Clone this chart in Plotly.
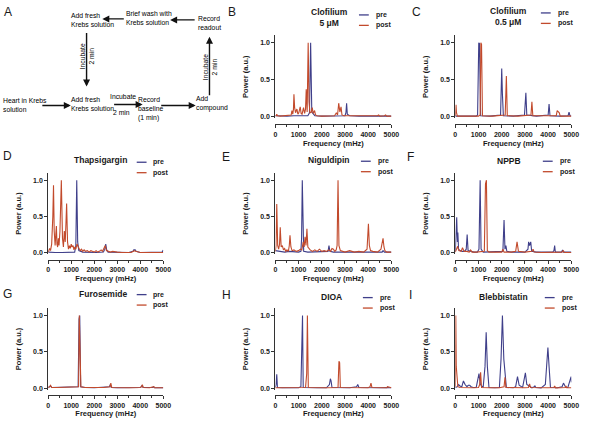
import plotly.graph_objects as go

# ---------------- DATA ----------------
freq_ticks = [0, 1000, 2000, 3000, 4000, 5000]
freq_tick_labels = ["0", "1000", "2000", "3000", "4000", "5000"]
power_ticks = [0, 0.5, 1.0]
power_tick_labels = ["0.0", "0.5", "1.0"]

# B: Clofilium 5 uM
b_pre_x = [0, 200, 500, 800, 1100, 1400, 1470, 1520, 1570, 1650, 1700, 2000, 2500, 3000, 3040, 3070, 3100, 3200, 3600, 4000, 4500, 5000]
b_pre_y = [0.01, 0.005, 0.005, 0.01, 0.005, 0.01, 0.05, 1.0, 0.06, 0.03, 0.01, 0.005, 0.005, 0.01, 0.05, 0.18, 0.03, 0.01, 0.005, 0.005, 0.005, 0.005]
b_post_x = [0, 40, 60, 90, 200, 400, 600, 680, 714, 750, 780, 800, 830, 870, 900, 930, 970, 1010, 1070, 1110, 1150, 1214, 1260, 1300, 1330, 1370, 1414, 1450, 1490, 1550, 1590, 1630, 1660, 1690, 1730, 1800, 2000, 2300, 2550, 2630, 2680, 2730, 2780, 2830, 2870, 2950, 3300, 3700, 4000, 4200, 4400, 4450, 4500, 4700, 4750, 4800, 5000]
b_post_y = [0.01, 0.01, 0.03, 0.01, 0.005, 0.01, 0.01, 0.02, 0.08, 0.03, 0.1, 0.3, 0.12, 0.05, 0.08, 0.1, 0.03, 0.05, 0.13, 0.04, 0.03, 0.12, 0.04, 0.1, 0.37, 0.06, 1.0, 0.2, 0.05, 0.06, 0.12, 0.04, 0.06, 0.08, 0.02, 0.01, 0.005, 0.01, 0.01, 0.05, 0.02, 0.18, 0.06, 0.13, 0.02, 0.01, 0.01, 0.005, 0.01, 0.005, 0.01, 0.02, 0.005, 0.01, 0.02, 0.005, 0.005]

# C: Clofilium 0.5 uM
c_pre_x = [0, 300, 600, 900, 960, 1010, 1040, 1090, 1500, 1950, 2000, 2030, 2070, 2500, 2980, 3040, 3080, 3500, 4000, 4040, 4080, 4500, 4860, 4900, 4940, 5000]
c_pre_y = [0.005, 0.005, 0.005, 0.005, 0.02, 1.0, 0.99, 0.01, 0.005, 0.02, 0.65, 0.3, 0.01, 0.005, 0.02, 0.32, 0.02, 0.005, 0.02, 0.17, 0.01, 0.005, 0.01, 0.06, 0.01, 0.005]
c_post_x = [0, 30, 50, 90, 500, 1000, 1070, 1100, 1130, 1170, 1600, 2150, 2200, 2240, 2700, 3260, 3300, 3340, 3900, 4350, 4390, 4450, 4480, 4520, 5000]
c_post_y = [0.005, 0.16, 0.05, 0.005, 0.005, 0.005, 0.02, 1.0, 0.98, 0.01, 0.005, 0.02, 0.55, 0.01, 0.005, 0.02, 0.2, 0.01, 0.005, 0.01, 0.08, 0.06, 0.05, 0.005, 0.005]

# D: Thapsigargin
d_pre_x = [0, 100, 300, 600, 900, 1150, 1200, 1240, 1280, 1330, 1500, 1800, 2100, 2400, 2460, 2500, 2540, 2600, 3000, 3500, 3680, 3720, 3780, 3820, 4000, 4500, 4950, 5000]
d_pre_y = [0.01, 0.005, 0.005, 0.005, 0.005, 0.01, 0.1, 1.0, 0.15, 0.03, 0.01, 0.005, 0.005, 0.01, 0.05, 0.12, 0.04, 0.01, 0.005, 0.005, 0.02, 0.04, 0.04, 0.02, 0.005, 0.005, 0.01, 0.04]
d_post_x = [0, 60, 100, 150, 200, 230, 260, 300, 330, 355, 380, 410, 440, 470, 510, 570, 620, 660, 700, 740, 770, 800, 840, 880, 920, 960, 1000, 1040, 1080, 1120, 1160, 1200, 1250, 1300, 1340, 1400, 1450, 1500, 1560, 1620, 1700, 1780, 1850, 1920, 2000, 2080, 2150, 2220, 2300, 2360, 2420, 2480, 2530, 2600, 2700, 2800, 2900, 3000, 3200, 3400, 3600, 3750, 3800, 4000, 4300, 4600, 4900, 5000]
d_post_y = [0.01, 0.06, 0.03, 0.12, 0.5, 0.93, 0.3, 0.1, 0.25, 0.37, 0.12, 0.08, 0.2, 0.1, 0.3, 1.0, 0.2, 0.08, 0.3, 0.15, 0.4, 0.68, 0.15, 0.05, 0.1, 0.06, 0.12, 0.08, 0.1, 0.04, 0.08, 0.05, 0.12, 0.08, 0.06, 0.03, 0.05, 0.02, 0.04, 0.02, 0.03, 0.01, 0.03, 0.02, 0.01, 0.03, 0.01, 0.02, 0.04, 0.02, 0.06, 0.1, 0.03, 0.02, 0.01, 0.02, 0.01, 0.01, 0.005, 0.01, 0.005, 0.03, 0.02, 0.005, 0.005, 0.005, 0.01, 0.005]

# E: Niguldipin
e_pre_x = [0, 200, 400, 600, 800, 1000, 1100, 1130, 1160, 1190, 1220, 1400, 1600, 1800, 2000, 2200, 2270, 2310, 2350, 2500, 2800, 3200, 3600, 4000, 4200, 4240, 4400, 4600, 4640, 4700, 5000]
e_pre_y = [0.03, 0.02, 0.01, 0.02, 0.01, 0.01, 0.02, 0.2, 1.0, 0.15, 0.02, 0.01, 0.01, 0.01, 0.01, 0.01, 0.02, 0.1, 0.02, 0.01, 0.01, 0.01, 0.01, 0.01, 0.01, 0.02, 0.01, 0.01, 0.03, 0.01, 0.01]
e_post_x = [0, 30, 60, 100, 140, 180, 210, 250, 300, 350, 400, 450, 500, 560, 600, 630, 670, 720, 800, 900, 1000, 1080, 1140, 1200, 1240, 1280, 1320, 1360, 1400, 1450, 1500, 1600, 1700, 1800, 1900, 2000, 2100, 2200, 2300, 2380, 2440, 2500, 2560, 2620, 2660, 2700, 2740, 2800, 2900, 3000, 3200, 3400, 3600, 3800, 3950, 4010, 4050, 4100, 4200, 4400, 4550, 4600, 4640, 4680, 4720, 4800, 5000]
e_post_y = [0.02, 0.1, 0.67, 0.1, 0.05, 0.12, 0.35, 0.08, 0.1, 0.04, 0.06, 0.02, 0.04, 0.02, 0.1, 0.24, 0.08, 0.03, 0.04, 0.02, 0.03, 0.05, 0.04, 0.15, 0.08, 0.22, 0.1, 0.33, 0.08, 0.05, 0.04, 0.02, 0.04, 0.02, 0.05, 0.02, 0.03, 0.02, 0.04, 0.02, 0.06, 0.05, 0.02, 0.04, 0.1, 1.0, 0.1, 0.03, 0.02, 0.01, 0.03, 0.01, 0.02, 0.01, 0.05, 0.4, 0.1, 0.03, 0.02, 0.01, 0.05, 0.12, 0.2, 0.08, 0.03, 0.01, 0.01]

# F: NPPB
f_pre_x = [0, 30, 60, 90, 110, 140, 200, 300, 400, 470, 510, 550, 650, 800, 950, 1020, 1070, 1110, 1200, 1400, 1700, 1900, 2050, 2100, 2140, 2180, 2220, 2400, 2700, 3000, 3130, 3160, 3200, 3250, 3290, 3500, 3800, 4200, 4250, 4280, 4310, 4500, 4580, 4620, 4660, 5000]
f_pre_y = [0.02, 0.2, 0.49, 0.15, 0.28, 0.05, 0.03, 0.02, 0.02, 0.05, 0.25, 0.03, 0.02, 0.01, 0.01, 0.05, 1.0, 0.05, 0.01, 0.01, 0.01, 0.01, 0.02, 0.45, 0.05, 0.1, 0.02, 0.01, 0.01, 0.01, 0.05, 0.15, 0.1, 0.15, 0.02, 0.01, 0.01, 0.01, 0.03, 0.1, 0.01, 0.01, 0.01, 0.04, 0.01, 0.01]
f_post_x = [0, 50, 100, 150, 250, 310, 380, 500, 600, 660, 720, 900, 1100, 1250, 1300, 1340, 1380, 1450, 1700, 2000, 2050, 2100, 2400, 2600, 2660, 2720, 3000, 3300, 3350, 3400, 3700, 4000, 4400, 4600, 4650, 4700, 5000]
f_post_y = [0.01, 0.05, 0.09, 0.03, 0.02, 0.07, 0.02, 0.02, 0.01, 0.04, 0.01, 0.01, 0.01, 0.02, 0.95, 1.0, 0.03, 0.01, 0.01, 0.01, 0.05, 0.01, 0.01, 0.02, 0.15, 0.02, 0.01, 0.02, 0.05, 0.01, 0.005, 0.005, 0.005, 0.01, 0.03, 0.005, 0.005]

# G: Furosemide
g_pre_x = [0, 60, 100, 150, 400, 800, 1100, 1300, 1340, 1370, 1410, 1600, 2000, 2400, 2660, 2700, 2740, 3000, 3500, 4000, 4050, 4080, 4120, 4400, 4550, 4580, 4620, 5000]
g_pre_y = [0.01, 0.02, 0.03, 0.01, 0.01, 0.01, 0.01, 0.02, 0.95, 1.0, 0.02, 0.01, 0.005, 0.01, 0.02, 0.05, 0.01, 0.005, 0.005, 0.01, 0.02, 0.04, 0.01, 0.005, 0.01, 0.02, 0.005, 0.005]
g_post_x = [0, 60, 100, 150, 400, 800, 1100, 1320, 1350, 1380, 1420, 1600, 2000, 2400, 2680, 2720, 2760, 3000, 3500, 4000, 4060, 4090, 4130, 4400, 4550, 4590, 4630, 5000]
g_post_y = [0.01, 0.02, 0.04, 0.01, 0.01, 0.01, 0.01, 0.02, 1.0, 0.5, 0.02, 0.01, 0.005, 0.01, 0.02, 0.07, 0.01, 0.005, 0.005, 0.01, 0.02, 0.05, 0.01, 0.005, 0.01, 0.02, 0.005, 0.005]

# H: DIOA
h_pre_x = [0, 30, 60, 90, 300, 700, 1000, 1100, 1140, 1170, 1200, 1400, 1800, 2200, 2330, 2370, 2400, 2440, 2800, 3200, 3500, 3550, 3600, 4000, 4500, 4800, 5000]
h_pre_y = [0.01, 0.05, 0.19, 0.01, 0.005, 0.005, 0.005, 0.02, 0.6, 1.0, 0.01, 0.005, 0.005, 0.005, 0.05, 0.13, 0.1, 0.01, 0.005, 0.005, 0.02, 0.05, 0.01, 0.005, 0.005, 0.01, 0.005]
h_post_x = [0, 300, 600, 1000, 1300, 1350, 1380, 1420, 1800, 2200, 2700, 2740, 2770, 2800, 3200, 3600, 4000, 4080, 4120, 4160, 4500, 4800, 4830, 5000]
h_post_y = [0.005, 0.005, 0.005, 0.005, 0.01, 0.2, 1.0, 0.01, 0.005, 0.005, 0.01, 0.37, 0.35, 0.01, 0.005, 0.005, 0.005, 0.02, 0.07, 0.01, 0.005, 0.005, 0.02, 0.005]

# I: Blebbistatin
i_pre_x = [0, 80, 140, 200, 280, 350, 420, 500, 560, 620, 680, 760, 900, 960, 1020, 1080, 1200, 1280, 1330, 1380, 1450, 1700, 1900, 1970, 2030, 2090, 2200, 2500, 2600, 2680, 2750, 2900, 2960, 3020, 3080, 3300, 3400, 3430, 3470, 3700, 3880, 3940, 3990, 4040, 4100, 4400, 4600, 4660, 4700, 4760, 4850, 4950, 4990, 5000]
i_pre_y = [0.01, 0.02, 0.05, 0.03, 0.02, 0.1, 0.05, 0.02, 0.04, 0.04, 0.02, 0.01, 0.01, 0.1, 0.2, 0.05, 0.01, 0.3, 0.77, 0.3, 0.01, 0.005, 0.01, 0.4, 1.0, 0.4, 0.01, 0.005, 0.02, 0.16, 0.04, 0.01, 0.12, 0.21, 0.05, 0.005, 0.02, 0.03, 0.01, 0.005, 0.05, 0.4, 0.56, 0.3, 0.01, 0.005, 0.02, 0.07, 0.05, 0.01, 0.01, 0.1, 0.16, 0.08]
i_post_x = [0, 20, 40, 70, 110, 200, 500, 800, 1000, 1050, 1090, 1130, 1500, 1900, 2100, 2140, 2180, 2600, 3000, 3150, 3200, 3240, 3600, 4000, 4250, 4280, 4320, 4600, 4740, 4770, 4800, 5000]
i_post_y = [0.02, 1.0, 0.3, 0.1, 0.02, 0.01, 0.005, 0.005, 0.01, 0.05, 0.22, 0.01, 0.005, 0.005, 0.02, 0.15, 0.01, 0.005, 0.005, 0.01, 0.06, 0.01, 0.005, 0.005, 0.01, 0.03, 0.005, 0.005, 0.01, 0.03, 0.005, 0.005]

series_names = ["pre", "post"]
panel_letters = ["B", "C", "D", "E", "F", "G", "H", "I"]
panel_titles = ["Clofilium<br>5 μM", "Clofilium<br>0.5 μM", "Thapsigargin", "Niguldipin",
                "NPPB", "Furosemide", "DIOA", "Blebbistatin"]

# ---------------- STYLE / GEOMETRY ----------------
W, H = 600, 428
PRE_C = "#3f3f8a"
POST_C = "#c24a2c"
TXT = "#1a1a1a"
FONT = "Liberation Sans"

def px(x):
    return x / W

def py(y):
    return 1 - y / H

# column pixel extents (x=0 .. x=5000)
cols = [(47, 164), (278, 396), (461, 579)]
# rows: (pixel of 1.0, pixel of 0.0, x-axis line pixel)
rows = [(43, 117, 125), (181, 254, 261), (317, 390, 397)]
Y_LO, Y_HI = -0.02, 1.1

panel_pos = {"B": (0, 1), "C": (0, 2), "D": (1, 0), "E": (1, 1), "F": (1, 2),
             "G": (2, 0), "H": (2, 1), "I": (2, 2)}

data = {
    "B": (b_pre_x, b_pre_y, b_post_x, b_post_y),
    "C": (c_pre_x, c_pre_y, c_post_x, c_post_y),
    "D": (d_pre_x, d_pre_y, d_post_x, d_post_y),
    "E": (e_pre_x, e_pre_y, e_post_x, e_post_y),
    "F": (f_pre_x, f_pre_y, f_post_x, f_post_y),
    "G": (g_pre_x, g_pre_y, g_post_x, g_post_y),
    "H": (h_pre_x, h_pre_y, h_post_x, h_post_y),
    "I": (i_pre_x, i_pre_y, i_post_x, i_post_y),
}

fig = go.Figure()
annotations = []
shapes = []
layout_axes = {}

tick_font = dict(family=FONT, size=7, color=TXT, weight="bold")
title_font = dict(family=FONT, size=7.5, color=TXT, weight="bold")

for n, letter in enumerate(panel_letters, start=1):
    r, c = panel_pos[letter]
    x0p, x1p = cols[c]
    y1p, y0p, axp = rows[r]
    unit = y0p - y1p
    top = y1p - (Y_HI - 1.0) * unit
    bot = y0p - Y_LO * unit
    xs = "x" if n == 1 else f"x{n}"
    ys = "y" if n == 1 else f"y{n}"
    xk = "xaxis" if n == 1 else f"xaxis{n}"
    yk = "yaxis" if n == 1 else f"yaxis{n}"
    pre_x, pre_y, post_x, post_y = data[letter]
    fig.add_trace(go.Scatter(x=pre_x, y=pre_y, mode="lines", name=series_names[0],
                             line=dict(color=PRE_C, width=1.1), xaxis=xs, yaxis=ys, showlegend=False))
    fig.add_trace(go.Scatter(x=post_x, y=post_y, mode="lines", name=series_names[1],
                             line=dict(color=POST_C, width=1.1), xaxis=xs, yaxis=ys, showlegend=False))
    layout_axes[xk] = dict(
        domain=[px(x0p), px(x1p)], range=[0, 5000], anchor="free", position=py(axp),
        showline=True, linecolor="#333", linewidth=1, ticks="outside", ticklen=3, tickwidth=1,
        tickcolor="#333", tickvals=freq_ticks, ticktext=freq_tick_labels, tickfont=tick_font,
        showgrid=False, zeroline=False,
        minor=dict(ticks="outside", ticklen=2, tickvals=[500, 1500, 2500, 3500, 4500], tickcolor="#333"),
        title=dict(text="Frequency (mHz)", font=title_font, standoff=3),
    )
    layout_axes[yk] = dict(
        domain=[py(bot), py(top)], range=[Y_LO, Y_HI], anchor=xs,
        showline=True, linecolor="#333", linewidth=1, ticks="outside", ticklen=3, tickwidth=1,
        tickcolor="#333", tickvals=power_ticks, ticktext=power_tick_labels, tickfont=tick_font,
        showgrid=False, zeroline=False,
        title=dict(text="Power (a.u.)", font=title_font, standoff=10),
    )

# panel letters, titles, legends (pixel positions)
letter_pos = {"B": (234, 12), "C": (422, 12), "D": (6, 157), "E": (228, 158), "F": (415, 158),
              "G": (6, 295), "H": (228, 296), "I": (415, 296)}
title_pos = {"B": (333, 18), "C": (515, 17), "D": (100, 161), "E": (333, 161), "F": (516, 162),
             "G": (103, 295), "H": (335, 298), "I": (510, 298)}
legend_pos = {"B": (363, 15), "C": (548, 13), "D": (137, 163), "E": (365, 162), "F": (550, 162),
              "G": (137, 296), "H": (367, 299), "I": (552, 299)}

for letter in panel_letters:
    lx, ly = letter_pos[letter]
    annotations.append(dict(text=letter, x=px(lx), y=py(ly), xref="paper", yref="paper",
                            xanchor="center", yanchor="middle", showarrow=False,
                            font=dict(family=FONT, size=12, color=TXT)))
    tx, ty = title_pos[letter]
    annotations.append(dict(text=panel_titles[panel_letters.index(letter)], x=px(tx), y=py(ty),
                            xref="paper", yref="paper", xanchor="center", yanchor="middle",
                            showarrow=False, align="center",
                            font=dict(family=FONT, size=8.5, color=TXT, weight="bold")))
    gx, gy = legend_pos[letter]
    for k, (nm, col) in enumerate(zip(series_names, [PRE_C, POST_C])):
        yy = gy + 10.5 * k
        shapes.append(dict(type="line", xref="paper", yref="paper", x0=px(gx), x1=px(gx + 10),
                           y0=py(yy), y1=py(yy), line=dict(color=col, width=1.3)))
        annotations.append(dict(text=nm, x=px(gx + 15), y=py(yy), xref="paper", yref="paper",
                                xanchor="left", yanchor="middle", showarrow=False,
                                font=dict(family=FONT, size=7, color=TXT, weight="bold")))

# ---------------- Panel A: flowchart ----------------
annotations.append(dict(text="A", x=px(6), y=py(12), xref="paper", yref="paper", xanchor="center",
                        yanchor="middle", showarrow=False, font=dict(family=FONT, size=12, color=TXT)))
flow_font = dict(family=FONT, size=6.8, color="#000")
flow_texts = [
    ("Add fresh<br>Krebs solution", 92, 20),
    ("Brief wash with<br>Krebs solution", 149, 18),
    ("Record<br>readout", 211, 23),
    ("Heart in Krebs<br>solution", 23, 105),
    ("Add fresh<br>Krebs solution", 92, 104),
    ("Record<br>baseline<br>(1 min)", 152, 110),
    ("Add<br>compound", 214, 104),
    ("Incubate", 123, 97),
    ("2 min", 122, 113),
]
for t, x, y in flow_texts:
    annotations.append(dict(text=t, x=px(x), y=py(y), xref="paper", yref="paper", xanchor="center",
                            yanchor="middle", showarrow=False, align="left" if "<br>" in t else "center",
                            font=flow_font))
for x, y in [(86, 57), (211, 67)]:
    annotations.append(dict(text="Incubate<br>2 min", x=px(x), y=py(y), xref="paper", yref="paper",
                            xanchor="center", yanchor="middle", showarrow=False, textangle=-90,
                            align="center", font=flow_font))
arrows = [((125, 19), (102, 19)), ((197, 20), (171, 20)), ((86, 32), (86, 87)), ((211, 97), (211, 37)),
          ((40, 106), (70, 106)), ((113, 105), (143, 105)), ((161, 106), (197, 106))]
for (tx, ty), (hx, hy) in arrows:
    annotations.append(dict(text="", x=px(hx), y=py(hy), xref="paper", yref="paper",
                            ax=tx - hx, ay=ty - hy, showarrow=True, arrowhead=2, arrowsize=1,
                            arrowwidth=1.4, arrowcolor="#111", standoff=0, startstandoff=0))

fig.update_layout(
    width=W, height=H, margin=dict(l=0, r=0, t=0, b=0),
    paper_bgcolor="white", plot_bgcolor="white", showlegend=False,
    annotations=annotations, shapes=shapes, **layout_axes,
)
fig.write_html("out.html", config={"displayModeBar": False},
               post_script="document.body.style.margin='0';document.body.style.overflow='hidden';")
